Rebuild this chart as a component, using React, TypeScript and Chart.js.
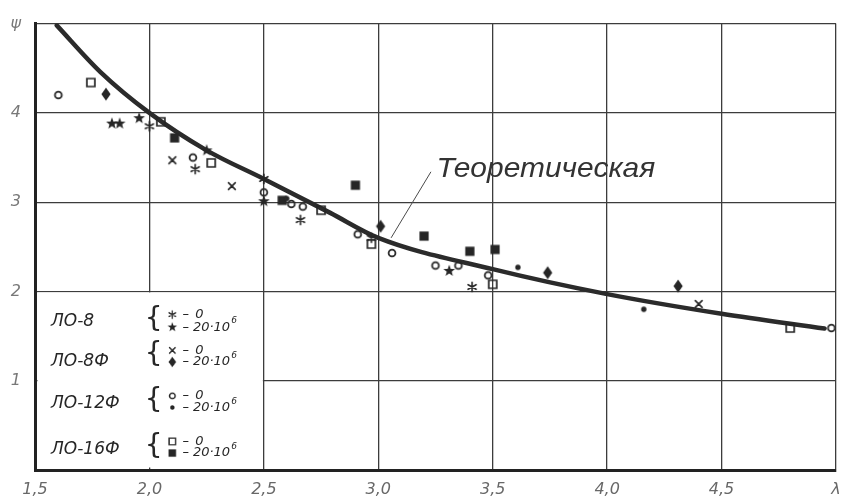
import React, { useEffect, useRef } from 'react';
import { Chart, registerables } from 'chart.js';

Chart.register(...registerables);

// ---------- axes ----------
const xTicks = [1.5, 2.0, 2.5, 3.0, 3.5, 4.0, 4.5, 5.0];
const xTickLabels = ['1,5', '2,0', '2,5', '3,0', '3,5', '4,0', '4,5', 'λ'];
const yTicks = [0, 1, 2, 3, 4, 5];
const yTickLabels = ['', '1', '2', '3', '4', 'ψ'];

// ---------- theoretical curve ----------
const curveX = [1.595, 1.785, 2.0, 2.25, 2.5, 2.79, 3.0, 3.5, 4.0, 4.5, 4.95];
const curveY = [4.98, 4.46, 4.0, 3.58, 3.26, 2.88, 2.6, 2.25, 1.97, 1.75, 1.585];
const curveLabel = 'Теоретическая';

// ---------- experimental series ----------
const seriesNames = ['ЛО-8', 'ЛО-8Ф', 'ЛО-12Ф', 'ЛО-16Ф'];
const zeroLabel = '0';
const loadLabel = '20·10';
const loadExp = '6';

// ЛО-8
const lo8ZeroX = [2.0, 2.2, 2.5, 2.66, 2.97, 3.41];
const lo8ZeroY = [3.85, 3.37, 3.26, 2.8, 2.6, 2.05];
const lo8LoadX = [1.836, 1.87, 1.955, 2.25, 2.5, 3.31];
const lo8LoadY = [3.88, 3.88, 3.94, 3.58, 3.01, 2.23];
// ЛО-8Ф
const lo8fZeroX = [2.1, 2.36, 4.4];
const lo8fZeroY = [3.47, 3.18, 1.86];
const lo8fLoadX = [1.81, 3.01, 3.74, 4.31];
const lo8fLoadY = [4.21, 2.73, 2.21, 2.06];
// ЛО-12Ф
const lo12ZeroX = [1.602, 2.19, 2.5, 2.62, 2.67, 2.91, 3.06, 3.25, 3.35, 3.48, 4.98];
const lo12ZeroY = [4.2, 3.5, 3.11, 2.98, 2.95, 2.64, 2.43, 2.29, 2.29, 2.18, 1.59];
const lo12LoadX = [2.6, 3.61, 4.16];
const lo12LoadY = [3.04, 2.27, 1.8];
// ЛО-16Ф
const lo16ZeroX = [1.744, 2.05, 2.27, 2.75, 2.97, 3.5, 4.8];
const lo16ZeroY = [4.34, 3.9, 3.44, 2.91, 2.53, 2.08, 1.59];
const lo16LoadX = [2.11, 2.58, 2.9, 3.2, 3.4, 3.51];
const lo16LoadY = [3.72, 3.02, 3.19, 2.62, 2.45, 2.47];

const INK = '#262626';

function makeMarker(kind: string): HTMLCanvasElement {
  const s = 16;
  const c = document.createElement('canvas');
  c.width = s;
  c.height = s;
  const g = c.getContext('2d')!;
  g.translate(s / 2, s / 2);
  g.strokeStyle = INK;
  g.fillStyle = INK;
  g.lineWidth = 1.6;
  g.lineCap = 'round';
  g.beginPath();
  if (kind === 'asterisk') {
    const r = 4.6;
    [90, 30, 150].forEach((a) => {
      const t = (a * Math.PI) / 180;
      g.moveTo(r * Math.cos(t), r * Math.sin(t));
      g.lineTo(-r * Math.cos(t), -r * Math.sin(t));
    });
    g.stroke();
  } else if (kind === 'star') {
    const ro = 6.2;
    const ri = 2.6;
    for (let i = 0; i < 10; i++) {
      const r = i % 2 === 0 ? ro : ri;
      const t = -Math.PI / 2 + (i * Math.PI) / 5;
      if (i === 0) g.moveTo(r * Math.cos(t), r * Math.sin(t));
      else g.lineTo(r * Math.cos(t), r * Math.sin(t));
    }
    g.closePath();
    g.fill();
  } else if (kind === 'cross') {
    const r = 3.4;
    g.moveTo(-r, -r);
    g.lineTo(r, r);
    g.moveTo(r, -r);
    g.lineTo(-r, r);
    g.stroke();
  } else if (kind === 'diamond') {
    g.moveTo(0, -6.5);
    g.lineTo(4.6, 0);
    g.lineTo(0, 6.5);
    g.lineTo(-4.6, 0);
    g.closePath();
    g.fill();
  } else if (kind === 'circle') {
    g.lineWidth = 1.8;
    g.arc(0, 0, 3.4, 0, Math.PI * 2);
    g.stroke();
  } else if (kind === 'dot') {
    g.arc(0, 0, 2.7, 0, Math.PI * 2);
    g.fill();
  } else if (kind === 'square') {
    g.lineWidth = 1.7;
    g.rect(-4, -4, 8, 8);
    g.stroke();
  } else if (kind === 'fsquare') {
    g.rect(-4.6, -4.6, 9.2, 9.2);
    g.fill();
  }
  return c;
}

const pts = (xs: number[], ys: number[]) => xs.map((x, i) => ({ x, y: ys[i] }));

export default function App() {
  const ref = useRef<HTMLCanvasElement | null>(null);

  useEffect(() => {
    document.body.style.margin = '0';
    const canvas = ref.current;
    if (!canvas) return;

    const mk: Record<string, HTMLCanvasElement> = {};
    ['asterisk', 'star', 'cross', 'diamond', 'circle', 'dot', 'square', 'fsquare'].forEach((k) => {
      mk[k] = makeMarker(k);
    });

    const legendPairs = [
      ['asterisk', 'star'],
      ['cross', 'diamond'],
      ['circle', 'dot'],
      ['square', 'fsquare'],
    ];

    const overlay = {
      id: 'overlay',
      beforeDatasetsDraw(chart: any) {
        const { ctx } = chart;
        const x = chart.scales.x;
        const y = chart.scales.y;
        const l = x.getPixelForValue(1.5) + 2.5;
        const r = x.getPixelForValue(2.5) - 1;
        const t = y.getPixelForValue(2) + 1;
        const b = y.getPixelForValue(0) - 2.5;
        ctx.save();
        ctx.fillStyle = '#ffffff';
        ctx.fillRect(l, t, r - l, b - t);
        ctx.restore();
      },
      afterDatasetsDraw(chart: any) {
        const { ctx } = chart;
        const x = chart.scales.x;
        const y = chart.scales.y;
        const X = (v: number) => x.getPixelForValue(v);
        const Y = (v: number) => y.getPixelForValue(v);
        ctx.save();
        ctx.fillStyle = INK;
        ctx.textAlign = 'left';
        ctx.textBaseline = 'middle';

        // legend inside the lower-left cell
        const nameY = [1.66, 1.21, 0.74, 0.23];
        const zY = [1.74, 1.34, 0.83, 0.32];
        const lY = [1.6, 1.21, 0.7, 0.19];
        seriesNames.forEach((name, i) => {
          ctx.font = 'italic 17px "DejaVu Sans"';
          ctx.fillText(name, X(1.57), Y(nameY[i]));
          ctx.font = '28px "DejaVu Sans"';
          ctx.fillText('{', X(1.98), Y((zY[i] + lY[i]) / 2) - 1);
          const [zk, lk] = legendPairs[i];
          const s = 13;
          ctx.drawImage(mk[zk], X(2.1) - s / 2, Y(zY[i]) - s / 2, s, s);
          ctx.drawImage(mk[lk], X(2.1) - s / 2, Y(lY[i]) - s / 2, s, s);
          ctx.font = 'italic 13px "DejaVu Sans"';
          ctx.fillText('–', X(2.145), Y(zY[i]));
          ctx.fillText(zeroLabel, X(2.2), Y(zY[i]));
          ctx.fillText('–', X(2.145), Y(lY[i]));
          ctx.fillText(loadLabel, X(2.19), Y(lY[i]));
          const w = ctx.measureText(loadLabel).width;
          ctx.font = 'italic 9px "DejaVu Sans"';
          ctx.fillText(loadExp, X(2.19) + w + 1, Y(lY[i]) - 6);
        });

        // annotation of the theoretical curve
        ctx.strokeStyle = '#4a4a4a';
        ctx.lineWidth = 1;
        ctx.beginPath();
        ctx.moveTo(X(3.23), Y(3.34));
        ctx.lineTo(X(3.056), Y(2.6));
        ctx.stroke();
        ctx.font = 'italic 28px "Liberation Sans"';
        ctx.textBaseline = 'alphabetic';
        const tw = ctx.measureText(curveLabel).width;
        const target = X(4.21) - X(3.254);
        ctx.translate(X(3.254), Y(3.285));
        ctx.scale(target / tw, 1);
        ctx.fillStyle = '#333';
        ctx.fillText(curveLabel, 0, 0);
        ctx.restore();
      },
    };

    const scatter = (xs: number[], ys: number[], marker: string) => ({
      type: 'scatter' as const,
      data: pts(xs, ys),
      pointStyle: mk[marker],
      pointRadius: 5,
      showLine: false,
    });

    const chart = new Chart(canvas, {
      type: 'scatter',
      data: {
        datasets: [
          scatter(lo8ZeroX, lo8ZeroY, 'asterisk'),
          scatter(lo8LoadX, lo8LoadY, 'star'),
          scatter(lo8fZeroX, lo8fZeroY, 'cross'),
          scatter(lo8fLoadX, lo8fLoadY, 'diamond'),
          scatter(lo12ZeroX, lo12ZeroY, 'circle'),
          scatter(lo12LoadX, lo12LoadY, 'dot'),
          scatter(lo16ZeroX, lo16ZeroY, 'square'),
          scatter(lo16LoadX, lo16LoadY, 'fsquare'),
          {
            type: 'line' as const,
            data: pts(curveX, curveY),
            borderColor: '#2b2b2b',
            borderWidth: 4.5,
            pointRadius: 0,
            cubicInterpolationMode: 'monotone',
            fill: false,
            borderCapStyle: 'round',
          } as any,
        ],
      },
      options: {
        responsive: false,
        animation: false,
        devicePixelRatio: 1,
        events: [],
        layout: { padding: { top: 20, right: 3, left: 0, bottom: 0 } },
        plugins: { legend: { display: false }, tooltip: { enabled: false } },
        scales: {
          x: {
            type: 'linear',
            min: 1.5,
            max: 5,
            afterBuildTicks: (s: any) => {
              s.ticks = xTicks.map((v) => ({ value: v }));
            },
            afterFit: (s: any) => {
              s.height = 30;
              s.paddingLeft = 0;
              s.paddingRight = 0;
            },
            grid: {
              drawTicks: false,
              lineWidth: 1.3,
              color: (c: any) => (c.tick && c.tick.value === 1.5 ? 'rgba(0,0,0,0)' : '#3c3c3c'),
            },
            border: { display: true, width: 3, color: '#222' },
            ticks: {
              padding: 10,
              maxRotation: 0,
              autoSkip: false,
              color: '#686868',
              font: { family: '"DejaVu Sans"', size: 16, style: 'italic' },
              callback: (_v: any, i: number) => xTickLabels[i],
            },
          },
          y: {
            type: 'linear',
            min: 0,
            max: 5,
            afterBuildTicks: (s: any) => {
              s.ticks = yTicks.map((v) => ({ value: v }));
            },
            afterFit: (s: any) => {
              s.width = 35;
            },
            grid: {
              drawTicks: false,
              lineWidth: 1.3,
              color: (c: any) => (c.tick && c.tick.value === 0 ? 'rgba(0,0,0,0)' : '#3c3c3c'),
            },
            border: { display: true, width: 3, color: '#222' },
            ticks: {
              padding: 14,
              color: '#787878',
              font: { family: '"DejaVu Sans"', size: 16, style: 'italic' },
              callback: (_v: any, i: number) => yTickLabels[i],
            },
          },
        },
      },
      plugins: [overlay],
    } as any);

    return () => {
      chart.destroy();
    };
  }, []);

  return (
    <div style={{ width: 842, height: 500, background: '#fff' }}>
      <canvas ref={ref} width={842} height={500} style={{ display: 'block' }} />
    </div>
  );
}
